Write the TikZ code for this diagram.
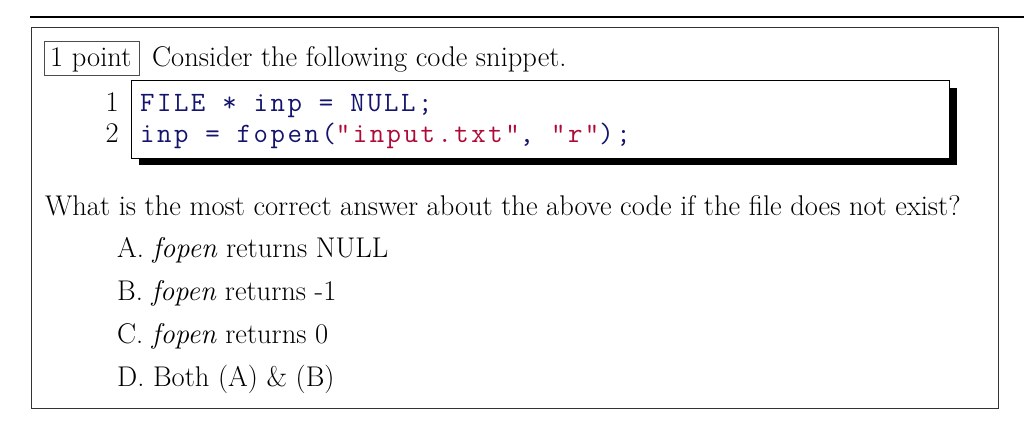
\documentclass[tikz,border=0pt]{standalone}
\usepackage{fontspec}
\setmonofont{Latin Modern Mono}[LetterSpace=9]
\definecolor{codeblue}{RGB}{20,20,110}
\definecolor{codered}{RGB}{175,10,55}
\begin{document}
\begin{tikzpicture}[x=1pt,y=-1pt,
  txt/.style={anchor=base west,inner sep=0pt,font=\fontsize{28.5}{32}\selectfont},
  code/.style={anchor=base west,inner sep=0pt,font=\fontsize{28}{32}\selectfont\ttfamily,text=codeblue}]
\useasboundingbox (0,0) rectangle (1024,430);
\draw[line width=1.5pt] (30,17) -- (1024,17);
\draw[line width=0.8pt,black!80] (31,27) rectangle (998,408);
\draw[line width=0.8pt,black!70] (44,41) rectangle (139,75);
\node[txt] (pt) at (50,67) {1 point};
\node[txt] (q1) at (152,67) {Consider the following code snippet.};
\fill[black] (139,88) rectangle (957,165);
\draw[line width=0.8pt,fill=white] (131,80) rectangle (949,158);
\node[txt,anchor=base east] (n1) at (119,112) {1};
\node[txt,anchor=base east] (n2) at (119,143) {2};
\node[code] (c1) at (140,112) {FILE * inp = NULL;};
\node[code] (c2) at (140,143) {inp = fopen(\textcolor{codered}{"input.txt"}, \textcolor{codered}{"r"});};
\node[txt] (q2) at (45,215) {What is the most correct answer about the above code if the file does not exist?};
\node[txt] (a) at (117,257) {A.\ \textit{fopen} returns NULL};
\node[txt] (b) at (117,300) {B.\ \textit{fopen} returns -1};
\node[txt] (c) at (117,343) {C.\ \textit{fopen} returns 0};
\node[txt] (d) at (117,386) {D.\ Both (A) \& (B)};
\end{tikzpicture}
\end{document}
